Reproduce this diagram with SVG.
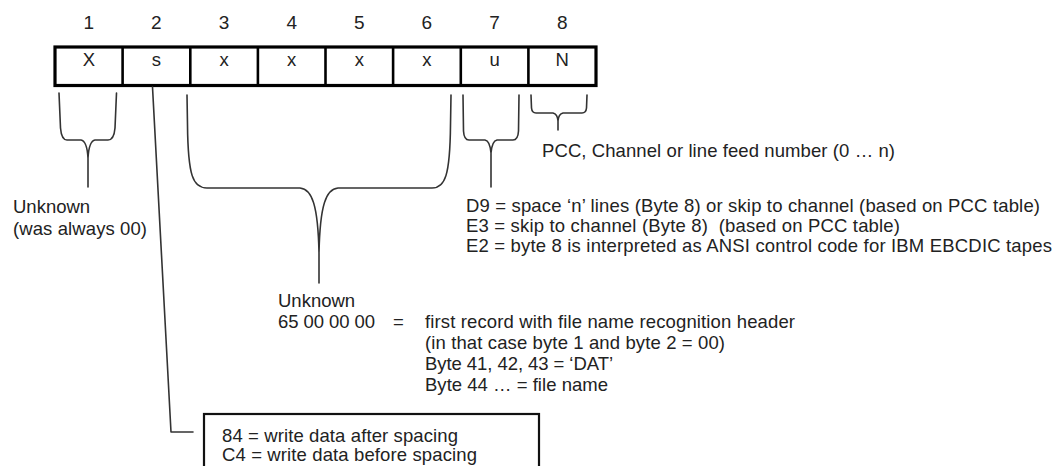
<svg xmlns="http://www.w3.org/2000/svg" width="1057" height="466" viewBox="0 0 1057 466">
<style>
  text { font-family: "Liberation Sans", Arial, sans-serif; font-size: 18.5px; fill: #222; white-space: pre; }
  .num { font-size: 19px; text-anchor: middle; }
  .cell { text-anchor: middle; }
  .conn { fill: none; stroke: #333; stroke-width: 1.6; stroke-linejoin: round; stroke-linecap: round; }
</style>
<rect width="1057" height="466" fill="#ffffff"/>

<g id="record">
  <rect x="55" y="47" width="541" height="38.5" fill="#fff" stroke="#000" stroke-width="3.2"/>
  <g stroke="#000" stroke-width="2.6">
    <line x1="122.6" y1="47" x2="122.6" y2="85.5"/>
    <line x1="190.3" y1="47" x2="190.3" y2="85.5"/>
    <line x1="257.9" y1="47" x2="257.9" y2="85.5"/>
    <line x1="325.5" y1="47" x2="325.5" y2="85.5"/>
    <line x1="393.1" y1="47" x2="393.1" y2="85.5"/>
    <line x1="460.8" y1="47" x2="460.8" y2="85.5"/>
    <line x1="528.4" y1="47" x2="528.4" y2="85.5"/>
  </g>
  <text class="num" x="88.8" y="29">1</text>
  <text class="num" x="156.4" y="29">2</text>
  <text class="num" x="224.1" y="29">3</text>
  <text class="num" x="291.7" y="29">4</text>
  <text class="num" x="359.3" y="29">5</text>
  <text class="num" x="426.9" y="29">6</text>
  <text class="num" x="494.6" y="29">7</text>
  <text class="num" x="562.2" y="29">8</text>
  <text class="cell" x="88.8" y="66">X</text>
  <text class="cell" x="156.4" y="66">s</text>
  <text class="cell" x="224.1" y="66">x</text>
  <text class="cell" x="291.7" y="66">x</text>
  <text class="cell" x="359.3" y="66">x</text>
  <text class="cell" x="426.9" y="66">x</text>
  <text class="cell" x="494.6" y="66">u</text>
  <text class="cell" x="562.2" y="66">N</text>
</g>

<g id="connectors">
  <!-- brace byte 1 -->
  <path class="conn" d="M59,93 L60.5,128 Q61.5,140 67,140 L81,140 Q87,141 88,158 L88,187 M116.5,93 L115,128 Q114,140 108,140 L95,140 Q89,141 88,158"/>
  <!-- line byte 2 -->
  <path class="conn" d="M152.5,87 L171,432 L193,432"/>
  <!-- brace bytes 3-6 -->
  <path class="conn" d="M187,95 L187.5,125 C188,176 193,188 207,188 L300,188 C312,189 318,205 319,253 L319,283 M451,95 L450.5,125 C450,176 445,188 432,188 L338,188 C326,189 320,205 319,253"/>
  <!-- brace byte 7 -->
  <path class="conn" d="M463,95 L463.5,131 Q464,140 469,140 L485,140 Q490,141 491,153 L491,187 M519,95 L518.5,131 Q518,140 513,140 L497,140 Q492,141 491,153"/>
  <!-- brace byte 8 -->
  <path class="conn" d="M531,95 L531.5,108 Q532,113 536,113 L553,113 Q557.5,114 558,121 L558,130 M587,95 L586.5,108 Q586,113 582,113 L563,113 Q558.5,114 558,121"/>
</g>

<g id="label-byte8">
  <text x="542" y="157" textLength="353" lengthAdjust="spacing">PCC, Channel or line feed number (0 … n)</text>
</g>

<g id="label-byte7">
  <text x="466" y="212" textLength="574" lengthAdjust="spacing">D9 = space ‘n’ lines (Byte 8) or skip to channel (based on PCC table)</text>
  <text x="466" y="232" textLength="434" lengthAdjust="spacing">E3 = skip to channel (Byte 8)  (based on PCC table)</text>
  <text x="466" y="252" textLength="586" lengthAdjust="spacing">E2 = byte 8 is interpreted as ANSI control code for IBM EBCDIC tapes</text>
</g>

<g id="label-byte1">
  <text x="13" y="213">Unknown</text>
  <text x="13" y="235" textLength="134" lengthAdjust="spacing">(was always 00)</text>
</g>

<g id="label-bytes3-6">
  <text x="278" y="307">Unknown</text>
  <text x="278" y="328" textLength="97" lengthAdjust="spacing">65 00 00 00</text>
  <text x="393" y="328">=</text>
  <text x="425" y="328" textLength="370" lengthAdjust="spacing">first record with file name recognition header</text>
  <text x="425" y="349" textLength="300" lengthAdjust="spacing">(in that case byte 1 and byte 2 = 00)</text>
  <text x="425" y="370" textLength="188" lengthAdjust="spacing">Byte 41, 42, 43 = ‘DAT’</text>
  <text x="425" y="391" textLength="183" lengthAdjust="spacing">Byte 44 … = file name</text>
</g>

<g id="label-byte2">
  <rect x="204" y="414" width="335" height="80" fill="#fff" stroke="#111" stroke-width="2.2"/>
  <text x="222" y="442" textLength="236" lengthAdjust="spacing">84 = write data after spacing</text>
  <text x="222" y="461" textLength="255" lengthAdjust="spacing">C4 = write data before spacing</text>
</g>
</svg>
